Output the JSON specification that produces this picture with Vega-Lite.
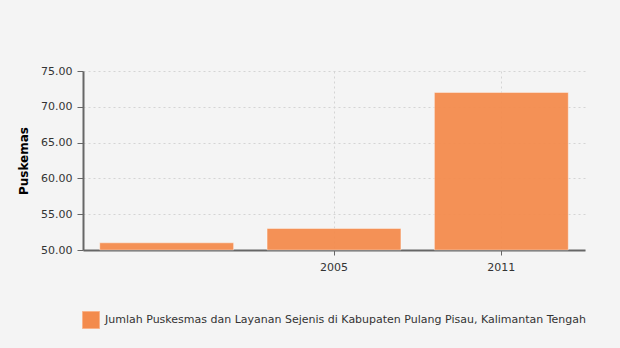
{
  "$schema": "https://vega.github.io/schema/vega-lite/v6.json",
  "autosize": {"type": "none"},
  "padding": {"left": 83, "top": 71, "right": 35, "bottom": 98},
  "width": 502,
  "height": 179,
  "background": "#f4f4f4",
  "config": {
    "view": {"stroke": null},
    "font": "DejaVu Sans"
  },
  "data": {
    "values": [
      {"tahun": "", "puskesmas": 51, "seri": "Jumlah Puskesmas dan Layanan Sejenis di Kabupaten Pulang Pisau, Kalimantan Tengah"},
      {"tahun": "2005", "puskesmas": 53, "seri": "Jumlah Puskesmas dan Layanan Sejenis di Kabupaten Pulang Pisau, Kalimantan Tengah"},
      {"tahun": "2011", "puskesmas": 72, "seri": "Jumlah Puskesmas dan Layanan Sejenis di Kabupaten Pulang Pisau, Kalimantan Tengah"}
    ]
  },
  "mark": {"type": "bar", "fillOpacity": 0.95, "stroke": "#ffffff", "strokeOpacity": 0.4, "strokeWidth": 1},
  "encoding": {
    "x": {
      "field": "tahun",
      "type": "nominal",
      "sort": null,
      "scale": {"paddingInner": 0.2, "paddingOuter": 0.1},
      "axis": {
        "title": null,
        "labelAngle": 0,
        "labelFontSize": 11,
        "labelColor": "#333333",
        "labelPadding": 6,
        "domainColor": "#666666",
        "domainWidth": 2,
        "tickColor": "#666666",
        "tickSize": 5,
        "tickOpacity": {"condition": {"test": "datum.value === ''", "value": 0}, "value": 1},
        "grid": true,
        "gridColor": "#d4d4d4",
        "gridDash": [2, 3],
        "gridWidth": 1,
        "gridOpacity": {"condition": {"test": "datum.value === ''", "value": 0}, "value": 1}
      }
    },
    "y": {
      "field": "puskesmas",
      "type": "quantitative",
      "scale": {"domain": [50, 75], "zero": false, "nice": false},
      "axis": {
        "title": "Puskemas",
        "titleFontSize": 12,
        "titleFontWeight": "bold",
        "titleColor": "#000000",
        "titlePadding": 10,
        "values": [50, 55, 60, 65, 70, 75],
        "format": ".2f",
        "labelFontSize": 11,
        "labelColor": "#333333",
        "labelPadding": 5,
        "domainColor": "#666666",
        "domainWidth": 2,
        "tickColor": "#666666",
        "tickSize": 6,
        "grid": true,
        "gridColor": "#d4d4d4",
        "gridDash": [2, 3],
        "gridWidth": 1
      }
    },
    "y2": {"datum": 50},
    "color": {
      "field": "seri",
      "type": "nominal",
      "scale": {"range": ["#f38b4d"]},
      "legend": {
        "title": null,
        "orient": "none",
        "legendX": -1,
        "legendY": 240,
        "symbolType": "square",
        "symbolSize": 289,
        "symbolStrokeColor": "#f9b38a",
        "symbolStrokeWidth": 1,
        "symbolOpacity": 1,
        "labelFontSize": 11,
        "labelColor": "#333333",
        "labelLimit": 600,
        "labelOffset": 5
      }
    }
  }
}
